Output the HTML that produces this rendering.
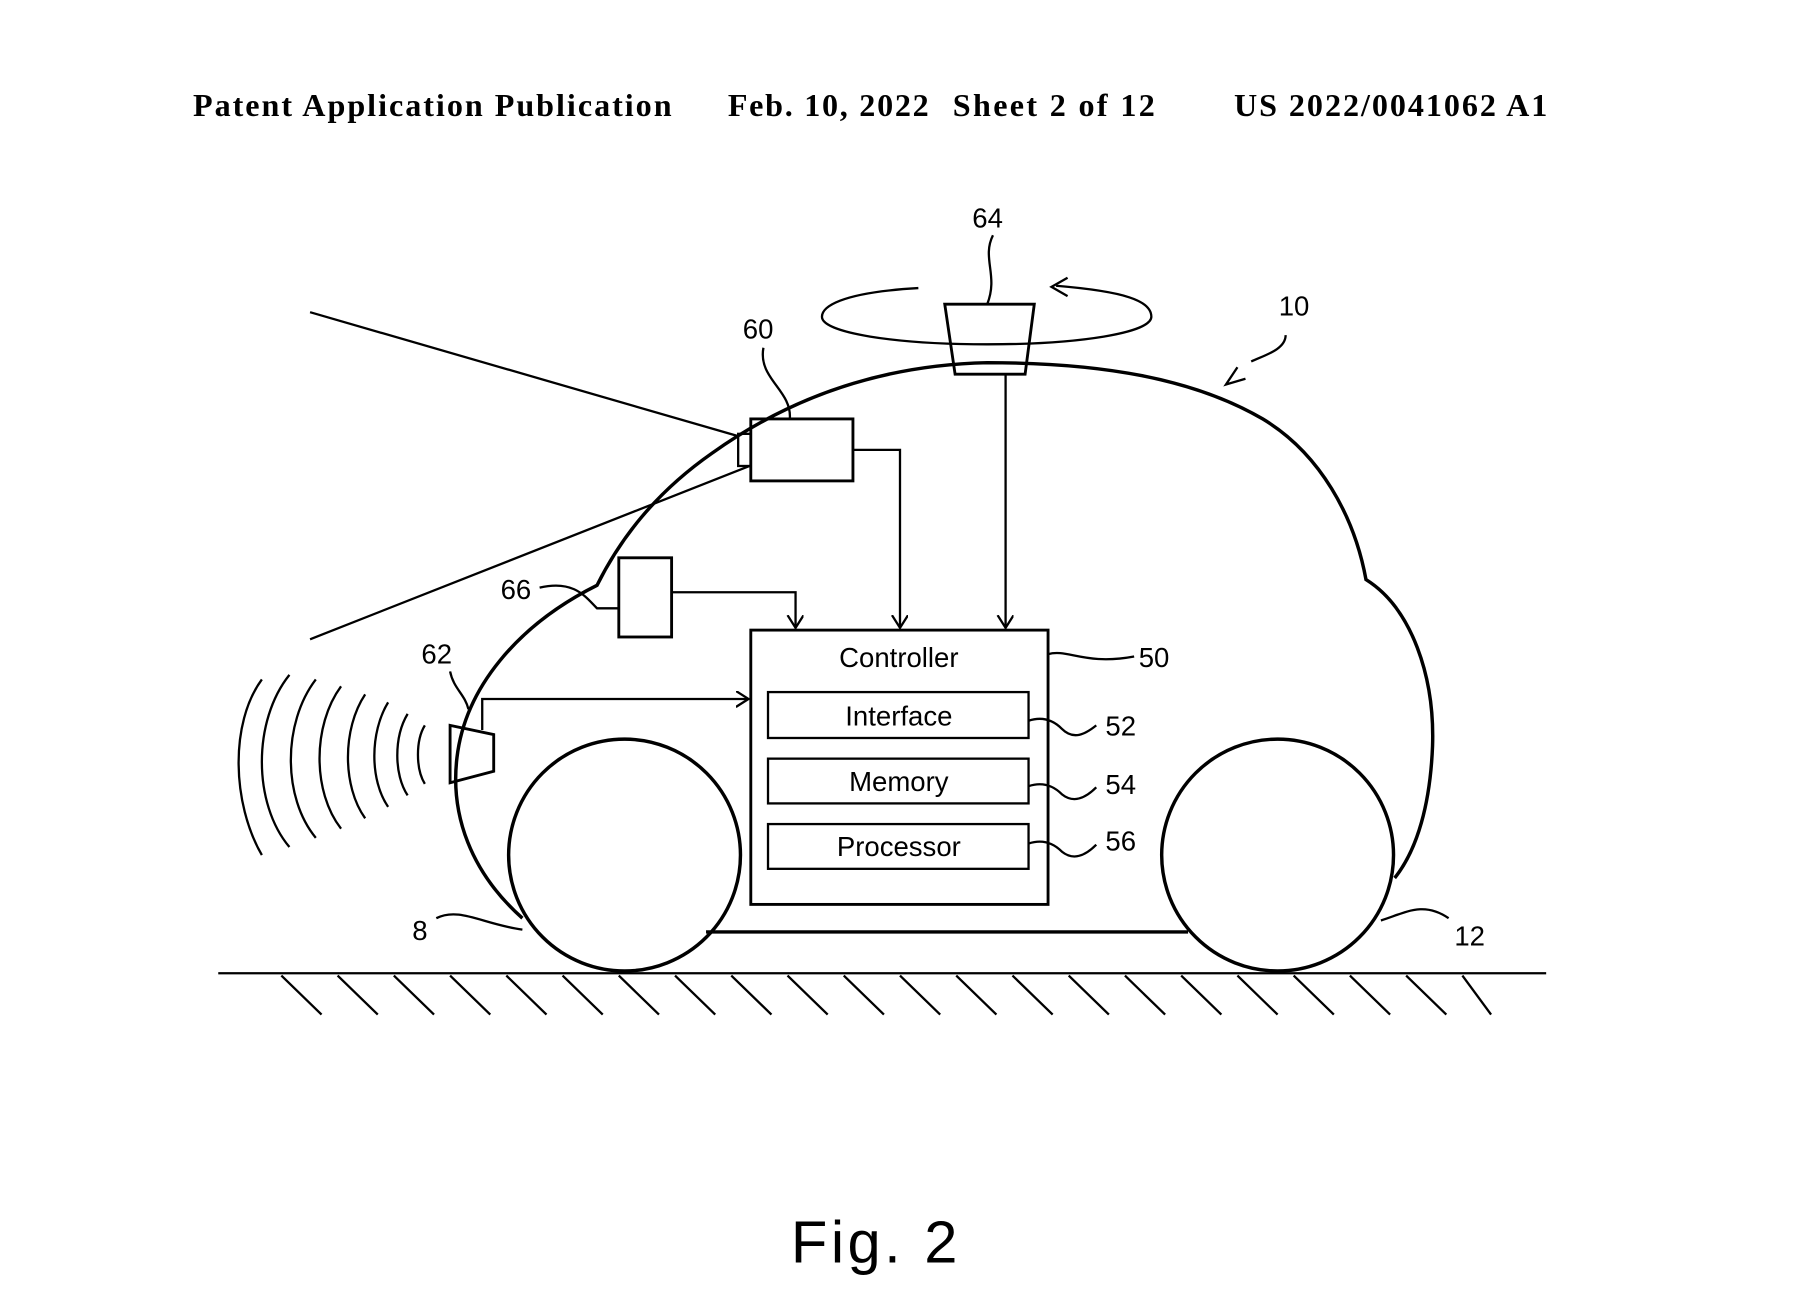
<!DOCTYPE html>
<html><head><meta charset="utf-8"><style>
html,body{margin:0;padding:0;background:#fff;width:1800px;height:1313px;overflow:hidden}
svg{display:block}
.h{font-family:"Liberation Serif",serif;font-weight:bold;font-size:28px}
.l{font-family:"Liberation Sans","DejaVu Sans",sans-serif;font-size:24px}
</style></head><body>
<svg width="1800" height="1313" viewBox="0 0 1568 1144" xmlns="http://www.w3.org/2000/svg">
<defs><marker id="a" markerWidth="16" markerHeight="16" refX="11" refY="7" orient="auto" markerUnits="userSpaceOnUse"><path d="M0,0 L11,7 L0,14" fill="none" stroke="#000" stroke-width="2"/></marker></defs>
<rect width="1568" height="1144" fill="#fff"/>
<text class="h" x="168" y="101" textLength="417" lengthAdjust="spacing">Patent Application Publication</text>
<text class="h" x="634" y="101" textLength="175" lengthAdjust="spacing">Feb. 10, 2022</text>
<text class="h" x="830" y="101" textLength="176" lengthAdjust="spacing">Sheet 2 of 12</text>
<text class="h" x="1075" y="101" textLength="273" lengthAdjust="spacing">US 2022/0041062 A1</text>
<g fill="none" stroke="#000" stroke-width="3">
<path d="M455,800 C410,760 392,710 398,660 C405,600 450,545 520,510 C540,470 570,430 620,395 C690,345 770,318 860,316 C960,316 1040,330 1100,365 C1150,395 1180,450 1190,505 C1230,530 1250,590 1248,650 C1246,700 1235,740 1215,765"/>
<line x1="615" y1="812" x2="1035" y2="812"/>
<circle cx="544" cy="745" r="101"/>
<circle cx="1113" cy="745" r="101"/>
</g>
<g stroke="#000" stroke-width="2" fill="none">
<line x1="190" y1="848" x2="1347" y2="848"/>
<line x1="245" y1="850" x2="280" y2="884"/><line x1="294" y1="850" x2="329" y2="884"/><line x1="343" y1="850" x2="378" y2="884"/><line x1="392" y1="850" x2="427" y2="884"/><line x1="441" y1="850" x2="476" y2="884"/><line x1="490" y1="850" x2="525" y2="884"/><line x1="539" y1="850" x2="574" y2="884"/><line x1="588" y1="850" x2="623" y2="884"/><line x1="637" y1="850" x2="672" y2="884"/><line x1="686" y1="850" x2="721" y2="884"/><line x1="735" y1="850" x2="770" y2="884"/><line x1="784" y1="850" x2="819" y2="884"/><line x1="833" y1="850" x2="868" y2="884"/><line x1="882" y1="850" x2="917" y2="884"/><line x1="931" y1="850" x2="966" y2="884"/><line x1="980" y1="850" x2="1015" y2="884"/><line x1="1029" y1="850" x2="1064" y2="884"/><line x1="1078" y1="850" x2="1113" y2="884"/><line x1="1127" y1="850" x2="1162" y2="884"/><line x1="1176" y1="850" x2="1211" y2="884"/><line x1="1225" y1="850" x2="1260" y2="884"/><line x1="1274" y1="850" x2="1299" y2="884"/>
<rect x="654" y="549" width="259" height="239" stroke-width="2.5"/>
<rect x="669" y="603" width="227" height="40"/>
<rect x="669" y="661" width="227" height="39"/>
<rect x="669" y="718" width="227" height="39"/>
<rect x="654" y="365" width="89" height="54" stroke-width="2.5"/>
<rect x="643" y="378" width="11" height="28"/>
<line x1="270" y1="272" x2="643" y2="380"/>
<line x1="270" y1="557" x2="653" y2="406"/>
<polyline points="743,392 784,392 784,547" marker-end="url(#a)"/>
<polygon points="823,265 901,265 893,326 832,326" stroke-width="2.5"/>
<path d="M800,251 C730,255 716,268 716,276 C716,290 780,300 860,300 C940,300 1003,290 1003,276 C1003,262 980,254 920,249"/>
<path d="M930,242 L916,250 L930,258"/>
<line x1="876" y1="326" x2="876" y2="547" marker-end="url(#a)"/>
<rect x="539" y="486" width="46" height="69" stroke-width="2.5"/>
<polyline points="585,516 693,516 693,547" marker-end="url(#a)"/>
<polygon points="392,632 430,640 430,672 392,682" stroke-width="2.5"/>
<polyline points="420,636 420,609 652,609" marker-end="url(#a)"/>
<path d="M370,632 C362,645 362,670 370,683"/>
<path d="M355,622 C343,642 343,675 355,693"/>
<path d="M338,612 C322,638 322,680 338,703"/>
<path d="M318,605 C298,635 298,685 318,713"/>
<path d="M297,598 C272,632 272,690 297,722"/>
<path d="M275,592 C246,630 246,695 275,730"/>
<path d="M252,588 C220,628 220,700 252,738"/>
<path d="M228,592 C200,630 202,700 228,745"/>
<path d="M865,205 C855,225 870,240 860,265"/>
<path d="M665,303 C660,330 690,340 688,365"/>
<path d="M1120,292 C1120,305 1100,310 1090,315"/>
<path d="M1078,320 L1068,335 L1085,330"/>
<path d="M470,512 C500,505 510,520 520,530 L539,530"/>
<path d="M392,585 C395,600 405,605 408,618"/>
<path d="M913,570 C930,565 945,580 988,572"/>
<path d="M896,628 C905,625 915,625 925,635 C935,645 945,640 955,632"/>
<path d="M896,685 C905,682 915,682 925,692 C935,700 945,696 955,686"/>
<path d="M896,735 C905,732 915,732 925,742 C935,750 945,746 955,736"/>
<path d="M380,800 C400,790 420,805 455,810"/>
<path d="M1203,802 C1225,795 1240,785 1262,800"/>
</g>
<text class="l" x="783" y="581" text-anchor="middle" font-size="26">Controller</text>
<text class="l" x="783" y="632" text-anchor="middle">Interface</text>
<text class="l" x="783" y="689" text-anchor="middle">Memory</text>
<text class="l" x="783" y="746" text-anchor="middle">Processor</text>
<text class="l" x="992" y="581">50</text>
<text class="l" x="963" y="641">52</text>
<text class="l" x="963" y="692">54</text>
<text class="l" x="963" y="741">56</text>
<text class="l" x="647" y="295">60</text>
<text class="l" x="847" y="198">64</text>
<text class="l" x="1114" y="275">10</text>
<text class="l" x="436" y="522">66</text>
<text class="l" x="367" y="578">62</text>
<text class="l" x="359" y="819">8</text>
<text class="l" x="1267" y="824">12</text>
<text x="763" y="1100" text-anchor="middle" font-family="Liberation Sans,DejaVu Sans,sans-serif" font-size="52" letter-spacing="3">Fig. 2</text>
</svg>
</body></html>
